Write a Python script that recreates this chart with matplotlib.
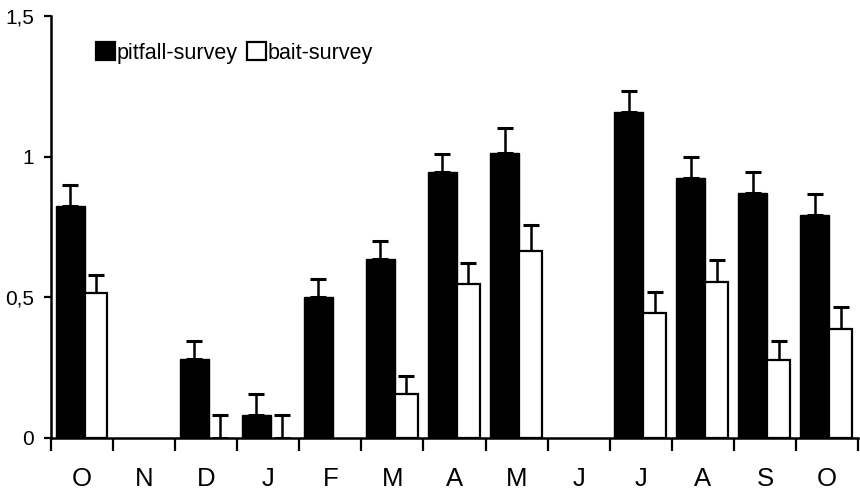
import numpy as np
import matplotlib.pyplot as plt

plt.rcParams['font.family'] = ['Liberation Sans', 'DejaVu Sans']

months = ["O", "N", "D", "J", "F", "M", "A", "M", "J", "J", "A", "S", "O"]
pitfall = [0.825, 0, 0.281, 0.079, 0.50, 0.637, 0.946, 1.012, 0, 1.157, 0.924, 0.869, 0.791]
pitfall_err = [0.075, np.nan, 0.064, 0.076, 0.066, 0.062, 0.063, 0.088, np.nan, 0.077, 0.076, 0.075, 0.076]
bait = [0.513, 0, 0, 0, 0, 0.155, 0.545, 0.664, 0, 0.444, 0.555, 0.277, 0.388]
bait_err = [0.066, np.nan, 0.079, 0.079, np.nan, 0.065, 0.075, 0.091, np.nan, 0.076, 0.076, 0.067, 0.076]
yticks = [0, 0.5, 1, 1.5]
ytick_labels = ["0", "0,5", "1", "1,5"]

fig = plt.figure(figsize=(8.6, 4.92), dpi=100)
ax = fig.add_axes([0.0593, 0.1104, 0.9384, 0.857])

x = np.arange(len(months))
w_black = 0.467
w_white = 0.37
x_black = x - 0.427 + w_black / 2
x_white = x + 0.04 + w_white / 2

# empty months get no outline
lw_black = [1.0 if v > 0 else 0 for v in pitfall]
lw_white = [1.6 if v > 0 else 0 for v in bait]

ax.bar(x_black, pitfall, width=w_black, color="black", edgecolor="black",
       linewidth=lw_black, label="pitfall-survey", zorder=2)
ax.bar(x_white, bait, width=w_white, color="white", edgecolor="black",
       linewidth=lw_white, label="bait-survey", zorder=2)

# upper error bars only
for xs, ys, es in [(x_black, pitfall, pitfall_err), (x_white, bait, bait_err)]:
    es = np.array(es)
    ok = ~np.isnan(es)
    ys = np.array(ys)
    ax.errorbar(xs[ok], ys[ok], yerr=[np.zeros(ok.sum()), es[ok]], fmt="none",
                ecolor="black", elinewidth=1.8, capsize=5.8, capthick=2.2, zorder=1)

ax.set_xlim(-0.5, len(months) - 0.5)
ax.set_ylim(0, 1.5)
ax.set_yticks(yticks)
ax.set_yticklabels(ytick_labels, fontsize=15)
ax.tick_params(axis="y", direction="out", length=5, width=1.6, pad=7)

ax.set_xticks(np.arange(len(months) + 1) - 0.5)
ax.set_xticklabels([])
ax.tick_params(axis="x", which="major", direction="out", length=9, width=1.6)
ax.set_xticks(x, minor=True)
ax.set_xticklabels(months, minor=True, fontsize=18.5)
ax.tick_params(axis="x", which="minor", length=0, pad=21)

for side in ["top", "right"]:
    ax.spines[side].set_visible(False)
for side in ["left", "bottom"]:
    ax.spines[side].set_linewidth(1.8)

leg = ax.legend(loc="upper left", bbox_to_anchor=(0.045, 0.958), ncol=2, frameon=False,
                fontsize=15.5, handlelength=0.9, handleheight=0.9, handletextpad=0.05,
                columnspacing=0.45, borderaxespad=0)
for h in leg.legend_handles:
    h.set_linewidth(1.6)

fig.savefig("out.png", dpi=100)
